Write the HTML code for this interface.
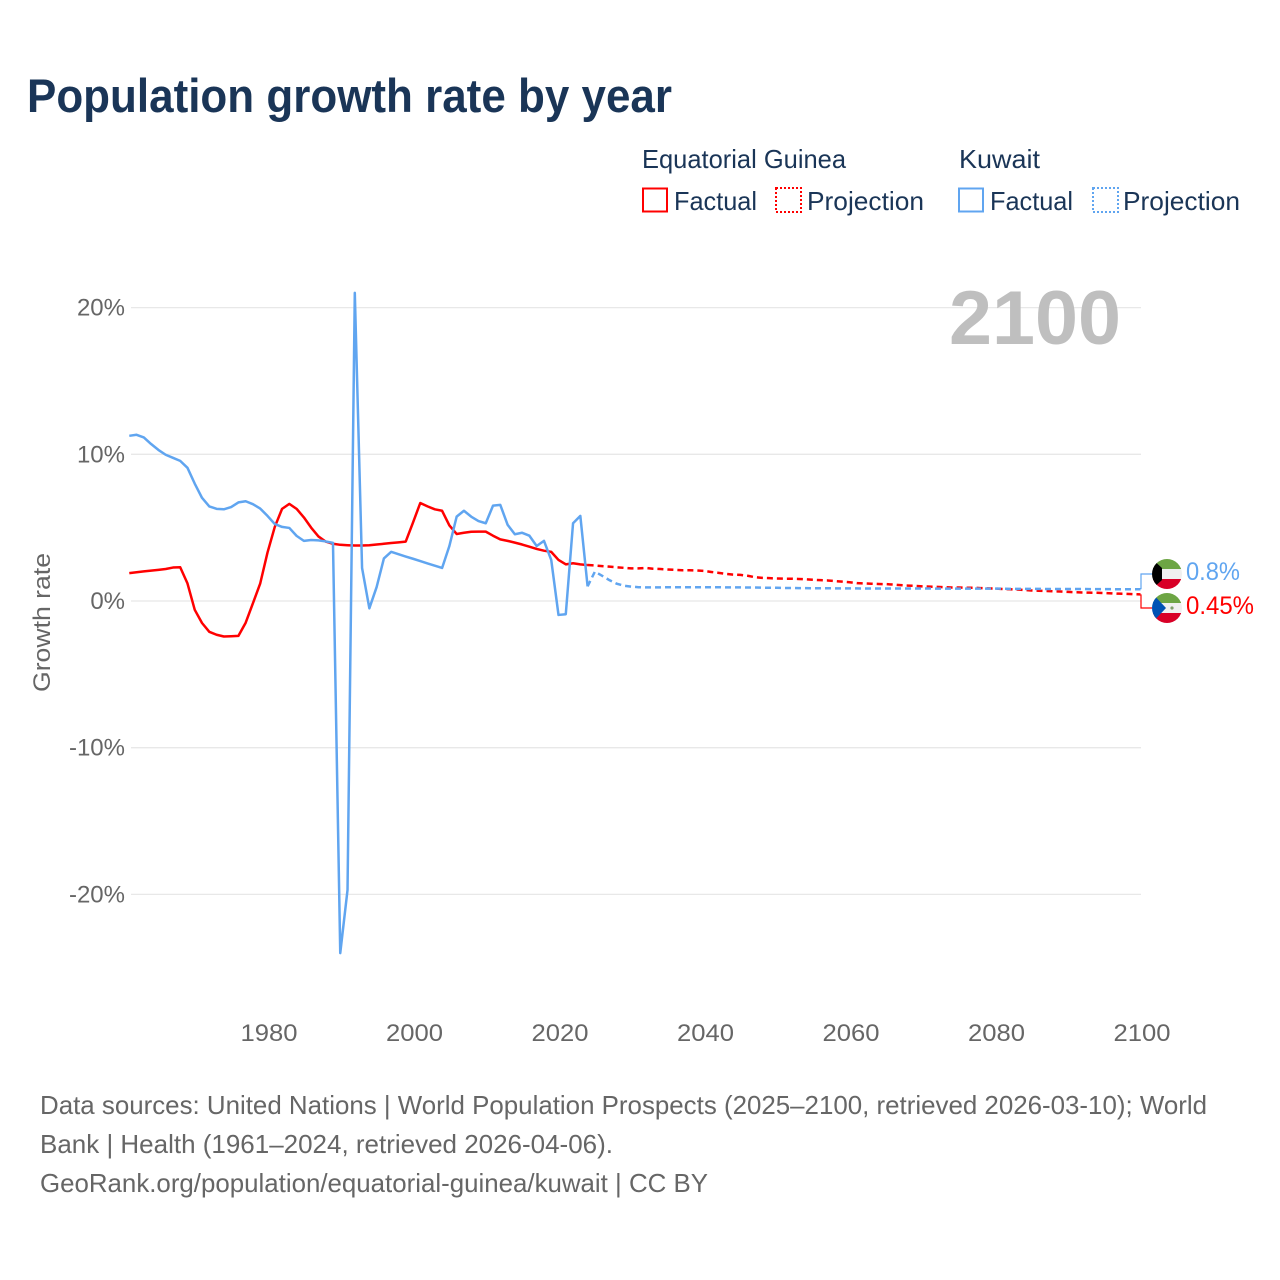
<!DOCTYPE html>
<html lang="en">
<head>
<meta charset="utf-8">
<title>Population growth rate by year</title>
<style>
html,body{margin:0;padding:0;background:#fff}
svg{display:block;font-family:"Liberation Sans",sans-serif}
</style>
</head>
<body>
<svg id="chart" xmlns="http://www.w3.org/2000/svg" width="1280" height="1280" viewBox="0 0 1280 1280">
  <rect x="0" y="0" width="1280" height="1280" fill="#fff"/>
  <text x="27" y="112" font-size="47" font-weight="700" fill="#1a3557" textLength="645" lengthAdjust="spacingAndGlyphs">Population growth rate by year</text>

  <g font-size="26" fill="#1a3557">
    <text x="642" y="168" textLength="204" lengthAdjust="spacingAndGlyphs">Equatorial Guinea</text>
    <text x="959" y="168" textLength="81" lengthAdjust="spacingAndGlyphs">Kuwait</text>
    <rect x="643" y="188.5" width="24" height="23" fill="none" stroke="#f00" stroke-width="2"/>
    <text x="674" y="210" textLength="83" lengthAdjust="spacingAndGlyphs">Factual</text>
    <rect x="776" y="188" width="25" height="24" fill="none" stroke="#f00" stroke-width="2" stroke-dasharray="2 2"/>
    <text x="807" y="210" textLength="117" lengthAdjust="spacingAndGlyphs">Projection</text>
    <rect x="959" y="188.5" width="24" height="23" fill="none" stroke="#60a5f0" stroke-width="2"/>
    <text x="990" y="210" textLength="83" lengthAdjust="spacingAndGlyphs">Factual</text>
    <rect x="1093" y="188" width="25" height="24" fill="none" stroke="#60a5f0" stroke-width="2" stroke-dasharray="2 2"/>
    <text x="1123" y="210" textLength="117" lengthAdjust="spacingAndGlyphs">Projection</text>
  </g>

  <g id="grid"></g>
  <g id="yticks" font-size="24" fill="#666"></g>
  <g id="xticks" font-size="24" fill="#666"></g>
  <text transform="translate(50 692) rotate(-90)" font-size="24" fill="#666" textLength="139" lengthAdjust="spacingAndGlyphs">Growth rate</text>
  <text x="949" y="344" font-size="76" font-weight="700" fill="#bfbfbf" textLength="172" lengthAdjust="spacingAndGlyphs">2100</text>
  <g id="series"></g>
  <g id="endmarks"></g>

  <defs>
    <clipPath id="clip-kw"><circle cx="1167" cy="574" r="15"/></clipPath>
    <clipPath id="clip-eg"><circle cx="1167" cy="608" r="15"/></clipPath>
  </defs>
  <g clip-path="url(#clip-kw)">
    <rect x="1150" y="558" width="34" height="11" fill="#6da544"/>
    <rect x="1150" y="569" width="34" height="10" fill="#f0f0f0"/>
    <rect x="1150" y="579" width="34" height="11" fill="#d80027"/>
    <polygon points="1150,557 1162,568 1162,580 1150,591" fill="#000"/>
  </g>
  <g clip-path="url(#clip-eg)">
    <rect x="1150" y="592" width="34" height="11" fill="#6da544"/>
    <rect x="1150" y="603" width="34" height="10" fill="#f0f0f0"/>
    <rect x="1150" y="613" width="34" height="11" fill="#d80027"/>
    <polygon points="1150,591 1166,608 1150,625" fill="#0052b4"/>
    <circle cx="1172" cy="608" r="1.6" fill="#7f9f6a"/>
  </g>

  <g font-size="26" fill="#666">
    <text x="40" y="1114" textLength="1167" lengthAdjust="spacingAndGlyphs">Data sources: United Nations | World Population Prospects (2025–2100, retrieved 2026-03-10); World</text>
    <text x="40" y="1153" textLength="573" lengthAdjust="spacingAndGlyphs">Bank | Health (1961–2024, retrieved 2026-04-06).</text>
    <text x="40" y="1192" textLength="668" lengthAdjust="spacingAndGlyphs">GeoRank.org/population/equatorial-guinea/kuwait | CC BY</text>
  </g>
</svg>
<script>
const yTickValues = [20, 10, 0, -10, -20];
const yTickLabels = ["20%", "10%", "0%", "-10%", "-20%"];
const xTickYears = [1980, 2000, 2020, 2040, 2060, 2080, 2100];
const firstYear = 1961;
const projectionFirstYear = 2024;

const guineaFactual = [1.9,1.96,2.02,2.07,2.12,2.18,2.28,2.3,1.2,-0.6,-1.5,-2.1,-2.3,-2.42,-2.4,-2.38,-1.48,-0.15,1.2,3.3,5.05,6.28,6.62,6.28,5.7,5.0,4.4,4.05,3.9,3.83,3.8,3.78,3.78,3.8,3.85,3.9,3.95,4.0,4.05,5.35,6.68,6.45,6.25,6.15,5.15,4.57,4.65,4.72,4.73,4.73,4.45,4.2,4.1,3.98,3.85,3.7,3.55,3.43,3.35,2.8,2.5,2.57,2.5,2.45];
const guineaProjection = [2.45,2.42,2.38,2.34,2.30,2.26,2.22,2.22,2.25,2.20,2.18,2.15,2.12,2.10,2.10,2.08,2.05,1.98,1.92,1.85,1.80,1.78,1.72,1.62,1.58,1.56,1.53,1.52,1.52,1.50,1.48,1.45,1.42,1.40,1.36,1.32,1.28,1.22,1.20,1.18,1.16,1.15,1.12,1.08,1.05,1.03,1.00,0.98,0.96,0.94,0.92,0.92,0.90,0.90,0.88,0.86,0.85,0.82,0.80,0.78,0.75,0.72,0.70,0.68,0.66,0.65,0.62,0.60,0.58,0.57,0.56,0.54,0.52,0.50,0.49,0.47,0.45];

const kuwaitFactual = [11.26,11.33,11.15,10.7,10.3,9.97,9.76,9.55,9.08,8.0,7.03,6.45,6.28,6.25,6.4,6.72,6.8,6.6,6.3,5.8,5.25,5.05,4.98,4.44,4.1,4.16,4.13,4.06,3.96,-24,-19.7,21,2.25,-0.5,0.95,2.9,3.35,3.19,3.03,2.88,2.72,2.56,2.41,2.25,3.75,5.75,6.15,5.75,5.45,5.3,6.5,6.55,5.2,4.55,4.65,4.45,3.75,4.1,2.8,-0.95,-0.9,5.3,5.8,1.0];
const kuwaitProjection = [1.0,2.0,1.72,1.42,1.18,1.04,0.98,0.94,0.93,0.93,0.93,0.94,0.94,0.94,0.94,0.94,0.94,0.94,0.94,0.93,0.93,0.93,0.92,0.92,0.91,0.90,0.90,0.89,0.89,0.88,0.88,0.87,0.87,0.87,0.86,0.86,0.86,0.86,0.85,0.85,0.85,0.85,0.85,0.85,0.85,0.85,0.85,0.85,0.84,0.84,0.84,0.84,0.84,0.84,0.84,0.84,0.84,0.84,0.83,0.83,0.83,0.83,0.83,0.82,0.82,0.82,0.82,0.82,0.82,0.81,0.81,0.81,0.81,0.80,0.80,0.80,0.80];

const RED = "#ff0000";
const BLUE = "#60a5f0";
const NS = "http://www.w3.org/2000/svg";

function xScale(year) { return 269 + (year - 1980) * 7.275; }
function xMark(year) { return xScale(year) - 1.5; }
function yScale(value) { return 601 - value * 14.67; }
function linePath(values, startYear) {
  return values.map(function (v, i) {
    return (i ? "L" : "M") + xMark(startYear + i).toFixed(2) + " " + yScale(v).toFixed(2);
  }).join("");
}
function make(tag, parentId, attrs, text) {
  const el = document.createElementNS(NS, tag);
  Object.keys(attrs).forEach(function (k) { el.setAttribute(k, attrs[k]); });
  if (text !== undefined) el.textContent = text;
  document.getElementById(parentId).appendChild(el);
  return el;
}

yTickValues.forEach(function (v, i) {
  const line = make("line", "grid", { x1: 131, x2: 1141, y1: yScale(v), y2: yScale(v), stroke: "#e8e8e8", "stroke-width": 1.3 });
  
  
  const label = make("text", "yticks", { x: 125, y: yScale(v) + 8, "text-anchor": "end" }, yTickLabels[i]);
  
  
});

xTickYears.forEach(function (yr) {
  const label = make("text", "xticks", { x: xScale(yr), y: 1041, "text-anchor": "middle", textLength: 57, lengthAdjust: "spacingAndGlyphs" }, String(yr));
  
  
});

const redLine = make("path", "series", { d: linePath(guineaFactual, firstYear), fill: "none", stroke: RED, "stroke-width": 2.5, "stroke-linejoin": "round" });



const redDash = make("path", "series", { d: linePath(guineaProjection, projectionFirstYear), fill: "none", stroke: RED, "stroke-width": 2.5, "stroke-dasharray": "6 4" });



const blueLine = make("path", "series", { d: linePath(kuwaitFactual, firstYear), fill: "none", stroke: BLUE, "stroke-width": 2.5, "stroke-linejoin": "round" });



const blueDash = make("path", "series", { d: linePath(kuwaitProjection, projectionFirstYear), fill: "none", stroke: BLUE, "stroke-width": 2.5, "stroke-dasharray": "6 4" });



const blueEnd = kuwaitProjection[kuwaitProjection.length - 1];
const redEnd = guineaProjection[guineaProjection.length - 1];

const blueConnector = make("path", "endmarks", { d: "M1141 " + yScale(blueEnd) + "L1141 574L1152 574", fill: "none", stroke: BLUE, "stroke-width": 1.2 });



const redConnector = make("path", "endmarks", { d: "M1141 " + yScale(redEnd) + "L1141 608L1152 608", fill: "none", stroke: RED, "stroke-width": 1.2 });



const blueLabel = make("text", "endmarks", { x: 1186, y: 580, "font-size": 25, fill: BLUE, textLength: 54, lengthAdjust: "spacingAndGlyphs" }, blueEnd + "%");



const redLabel = make("text", "endmarks", { x: 1186, y: 614, "font-size": 25, fill: RED, textLength: 68, lengthAdjust: "spacingAndGlyphs" }, redEnd + "%");


</script>
</body>
</html>
